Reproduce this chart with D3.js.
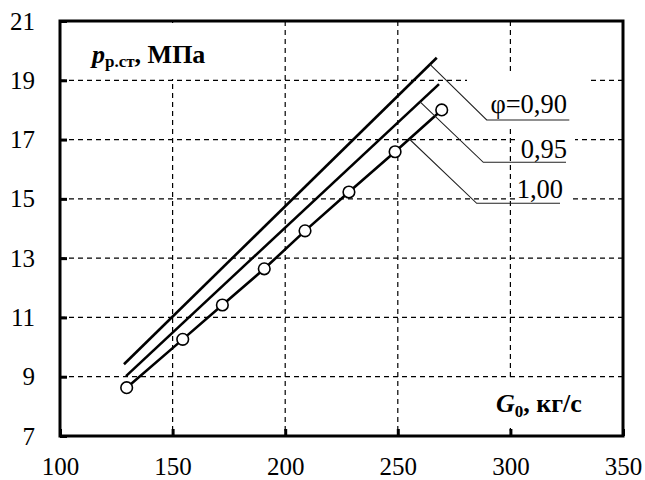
<!DOCTYPE html>
<html>
<head>
<meta charset="utf-8">
<script src="https://cdn.jsdelivr.net/npm/d3@7"></script>
<style>
  body { margin: 0; background: #fff; }
</style>
</head>
<body>
<div id="chart"></div>
<script>
// data
const xTicks = [100, 150, 200, 250, 300, 350];
const yTicks = [7, 9, 11, 13, 15, 17, 19, 21];

// phi = 1,00 (measured points)
const g100 = [129.6, 154.5, 172.1, 190.7, 208.8, 228.3, 248.8, 269.5];
const p100 = [8.63, 10.26, 11.42, 12.64, 13.92, 15.23, 16.59, 18.0];
// phi = 0,95
const g095 = [129.3, 268.3];
const p095 = [9.02, 18.87];
// phi = 0,90
const g090 = [128.4, 267.3];
const p090 = [9.42, 19.76];

const phiLabels = ["φ=0,90", "0,95", "1,00"];
const labelAtG = [264.3, 259.9, 255.1];

const FONT = '"Liberation Serif"';
const width = 645, height = 480, margin = { top: 21, right: 22, bottom: 44, left: 60 };

const svg = d3.select("#chart")
  .append("svg")
  .attr("width", width)
  .attr("height", height);

const x = d3.scaleLinear()
  .domain([100, 350])
  .range([margin.left, width - margin.right]);

const y = d3.scaleLinear()
  .domain([7, 21])
  .range([height - margin.bottom, margin.top]);

// grid
svg.append("g")
  .selectAll("line")
  .data(xTicks.slice(1, -1))
  .join("line")
  .attr("x1", d => x(d)).attr("x2", d => x(d))
  .attr("y1", y(21)).attr("y2", y(7))
  .attr("stroke", "#000").attr("stroke-width", 1.2)
  .attr("stroke-dasharray", "5,4");

svg.append("g")
  .selectAll("line")
  .data(yTicks.slice(1, -1))
  .join("line")
  .attr("x1", x(100)).attr("x2", x(350))
  .attr("y1", d => y(d)).attr("y2", d => y(d))
  .attr("stroke", "#000").attr("stroke-width", 1.2)
  .attr("stroke-dasharray", "5,4");

// white boxes behind labels cut the grid
const boxes = [
  [90, 23, 125, 56],    // y title
  [467, 73, 120, 52],   // phi=0,90
  [517, 134, 58, 26],   // 0,95
  [515, 178, 58, 26],   // 1,00
  [490, 380, 100, 48]   // x title
];
svg.append("g")
  .selectAll("rect")
  .data(boxes)
  .join("rect")
  .attr("x", d => d[0]).attr("y", d => d[1])
  .attr("width", d => d[2]).attr("height", d => d[3])
  .attr("fill", "#fff");

// axes (ticks inside, labels outside)
const xAxis = svg.append("g")
  .attr("transform", `translate(0,${y(7)})`)
  .call(d3.axisBottom(x).tickValues(xTicks).tickSize(-7).tickPadding(21));
const yAxis = svg.append("g")
  .attr("transform", `translate(${x(100)},0)`)
  .call(d3.axisLeft(y).tickValues(yTicks).tickSize(-7).tickPadding(25));

[xAxis, yAxis].forEach(a => {
  a.attr("font-family", null);
  a.select(".domain").remove();
  a.selectAll("line").attr("stroke-width", 3);
  a.selectAll("text")
    .style("font-family", FONT)
    .attr("font-size", 25)
    .attr("fill", "#000");
});

// frame
svg.append("rect")
  .attr("x", x(100)).attr("y", y(21))
  .attr("width", x(350) - x(100))
  .attr("height", y(7) - y(21))
  .attr("fill", "none")
  .attr("stroke", "#000")
  .attr("stroke-width", 3);

// lines
const line = d3.line()
  .x(d => x(d[0]))
  .y(d => y(d[1]));

const series = [
  d3.zip(g090, p090),
  d3.zip(g095, p095),
  d3.zip(g100, p100)
];

svg.append("g")
  .selectAll("path")
  .data(series)
  .join("path")
  .attr("fill", "none")
  .attr("stroke", "#000")
  .attr("stroke-width", 2.6)
  .attr("d", line);

svg.append("g")
  .selectAll("circle")
  .data(series[2])
  .join("circle")
  .attr("cx", d => x(d[0]))
  .attr("cy", d => y(d[1]))
  .attr("r", 5.8)
  .attr("fill", "#fff")
  .attr("stroke", "#000")
  .attr("stroke-width", 1.6);

// leader lines and phi labels
const elbows = [[486.7, 120, 569.3], [483.3, 162.3, 566], [476.7, 203.3, 560]];
const textPos = [[567, 113], [567, 158], [563, 198]];
const interp = (gs, ps, g) => {
  const i = Math.max(1, d3.bisectLeft(gs, g));
  const t = (g - gs[i - 1]) / (gs[i] - gs[i - 1]);
  return ps[i - 1] + t * (ps[i] - ps[i - 1]);
};
const seriesG = [g090, g095, g100], seriesP = [p090, p095, p100];

phiLabels.forEach((lab, i) => {
  const g = labelAtG[i];
  const p = interp(seriesG[i], seriesP[i], g);
  const e = elbows[i];
  svg.append("polyline")
    .attr("points", `${x(g)},${y(p)} ${e[0]},${e[1]} ${e[2]},${e[1]}`)
    .attr("fill", "none")
    .attr("stroke", "#222")
    .attr("stroke-width", 1.1);
  svg.append("text")
    .attr("x", textPos[i][0])
    .attr("y", textPos[i][1])
    .attr("text-anchor", "end")
    .attr("font-size", 26.5)
    .style("font-family", FONT)
    .text(lab);
});

// axis titles
const yt = svg.append("text")
  .attr("x", 92).attr("y", 63)
  .attr("font-size", 26)
  .attr("font-weight", "bold")
  .style("font-family", FONT);
yt.append("tspan").attr("font-style", "italic").text("p");
yt.append("tspan").attr("font-size", 17).attr("dy", 4).text("р.ст");
yt.append("tspan").attr("dy", -4).text(", МПа");

const xt = svg.append("text")
  .attr("x", 496).attr("y", 412)
  .attr("font-size", 26)
  .attr("font-weight", "bold")
  .style("font-family", FONT);
xt.append("tspan").attr("font-style", "italic").text("G");
xt.append("tspan").attr("font-size", 17).attr("dy", 5).text("0");
xt.append("tspan").attr("dy", -5).text(", кг/с");
</script>
</body>
</html>
